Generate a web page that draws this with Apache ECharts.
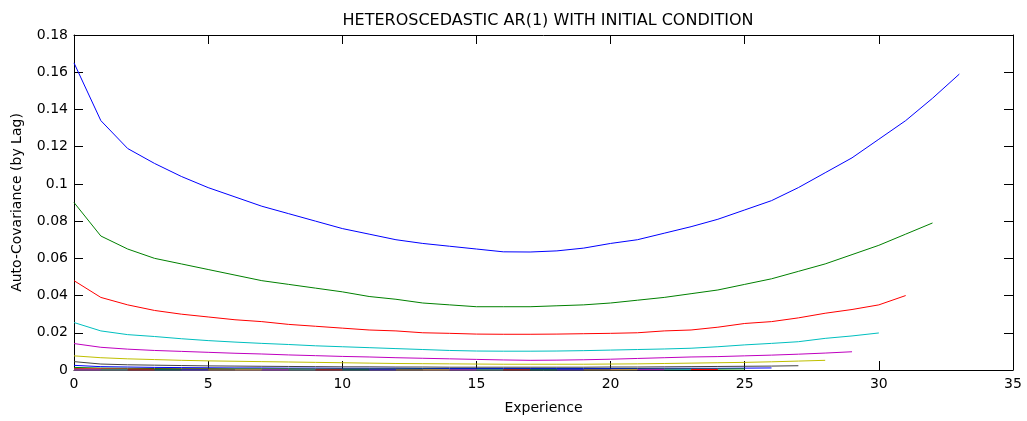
<!DOCTYPE html>
<html>
<head>
<meta charset="utf-8">
<script src="https://cdn.jsdelivr.net/npm/echarts@6/dist/echarts.min.js"></script>
<style>
  html, body { margin: 0; padding: 0; background: #fff; }
  #chart { width: 1027px; height: 421px; }
</style>
</head>
<body>
<div id="chart"></div>
<script>
// auto-covariance by lag, x = experience (0..33-lag)
const lag0 = [0.165, 0.134, 0.119, 0.111, 0.104, 0.098, 0.093, 0.088, 0.084, 0.080, 0.076, 0.073, 0.070, 0.068, 0.0665, 0.065, 0.0635, 0.0634, 0.064, 0.0655, 0.068, 0.070, 0.0735, 0.077, 0.081, 0.086, 0.091, 0.098, 0.106, 0.114, 0.124, 0.134, 0.146, 0.159]
const lag1 = [0.090, 0.072, 0.065, 0.060, 0.057, 0.054, 0.051, 0.048, 0.046, 0.044, 0.042, 0.0395, 0.038, 0.036, 0.035, 0.034, 0.034, 0.034, 0.0345, 0.035, 0.036, 0.0375, 0.039, 0.041, 0.043, 0.046, 0.049, 0.053, 0.057, 0.062, 0.067, 0.073, 0.079]
const lag2 = [0.048, 0.039, 0.035, 0.032, 0.030, 0.0285, 0.027, 0.026, 0.0245, 0.0235, 0.0225, 0.0215, 0.021, 0.020, 0.0197, 0.0193, 0.0192, 0.0192, 0.0193, 0.0195, 0.0197, 0.020, 0.021, 0.0215, 0.023, 0.025, 0.026, 0.028, 0.0305, 0.0325, 0.035, 0.040]
const lag3 = [0.0255, 0.021, 0.019, 0.018, 0.0168, 0.0158, 0.015, 0.0143, 0.0137, 0.013, 0.0125, 0.012, 0.0115, 0.011, 0.0105, 0.0102, 0.0101, 0.0101, 0.0102, 0.0104, 0.0107, 0.011, 0.0113, 0.0117, 0.0125, 0.0135, 0.0143, 0.0152, 0.017, 0.0183, 0.0199]
const lag4 = [0.0142, 0.0122, 0.0112, 0.0105, 0.010, 0.0095, 0.009, 0.0086, 0.0081, 0.0077, 0.0073, 0.007, 0.0066, 0.0063, 0.006, 0.0057, 0.0054, 0.0052, 0.0053, 0.0055, 0.0058, 0.0062, 0.0066, 0.007, 0.0072, 0.0076, 0.008, 0.0085, 0.0091, 0.0098]
const lag5 = [0.0076, 0.0066, 0.006, 0.0056, 0.0052, 0.0049, 0.0047, 0.0045, 0.0043, 0.0041, 0.0039, 0.0037, 0.0035, 0.0034, 0.0033, 0.0032, 0.0031, 0.0031, 0.0031, 0.0031, 0.0032, 0.0033, 0.0035, 0.0037, 0.0039, 0.0041, 0.0044, 0.0048, 0.0052]
const lag6 = [0.0045, 0.0032, 0.0028, 0.0026, 0.0024, 0.0022, 0.0021, 0.002, 0.0019, 0.0018, 0.0017, 0.0017, 0.0016, 0.0016, 0.0015, 0.0015, 0.0015, 0.0015, 0.0015, 0.0015, 0.0016, 0.0016, 0.0017, 0.0018, 0.0019, 0.002, 0.0021, 0.0023]
const lag7 = [0.0025, 0.0018, 0.0016, 0.0014, 0.0013, 0.0012, 0.0011, 0.0011, 0.001, 0.001, 0.0009, 0.0009, 0.0009, 0.0008, 0.0008, 0.0008, 0.0008, 0.0008, 0.0008, 0.0008, 0.0008, 0.0008, 0.0009, 0.0009, 0.0009, 0.001, 0.0011]
const lag8 = [0.0014, 0.001, 0.0009, 0.0008, 0.0007, 0.0007, 0.0006, 0.0006, 0.0006, 0.0005, 0.0005, 0.0005, 0.0005, 0.0005, 0.0004, 0.0004, 0.0004, 0.0004, 0.0004, 0.0004, 0.0004, 0.0005, 0.0005, 0.0005, 0.0005, 0.0006]
const lag9 = [0.0008, 0.0006, 0.0005, 0.0004, 0.0004, 0.0004, 0.0003, 0.0003, 0.0003, 0.0003, 0.0003, 0.0003, 0.0003, 0.0002, 0.0002, 0.0002, 0.0002, 0.0002, 0.0002, 0.0002, 0.0002, 0.0003, 0.0003, 0.0003, 0.0003]
const lag10 = [0.0004, 0.0003, 0.0003, 0.0002, 0.0002, 0.0002, 0.0002, 0.0002, 0.0002, 0.0002, 0.0001, 0.0001, 0.0001, 0.0001, 0.0001, 0.0001, 0.0001, 0.0001, 0.0001, 0.0001, 0.0001, 0.0001, 0.0001, 0.0002]
const lag11 = [0.0002, 0.0002, 0.0001, 0.0001, 0.0001, 0.0001, 0.0001, 0.0001, 0.0001, 0.0001, 0.0001, 0.0001, 0.0001, 0.0001, 0.0001, 0.0001, 0.0001, 0.0001, 0.0001, 0.0001, 0.0001, 0.0001, 0.0001]
const lag12 = [0.0001, 0.0001, 0.0001, 0.0001, 0.0001, 0.0001, 0.0001, 0.0001, 0.0001, 0.0001, 0, 0, 0, 0, 0, 0, 0, 0, 0, 0, 0, 0.0001]
// lags 13..33 sit on the axis
const nearZeroLags = [
  [0,0,0,0,0, 0,0,0,0,0, 0,0,0,0,0, 0,0,0,0,0, 0],
  [0,0,0,0,0, 0,0,0,0,0, 0,0,0,0,0, 0,0,0,0,0],
  [0,0,0,0,0, 0,0,0,0,0, 0,0,0,0,0, 0,0,0,0],
  [0,0,0,0,0, 0,0,0,0,0, 0,0,0,0,0, 0,0,0],
  [0,0,0,0,0, 0,0,0,0,0, 0,0,0,0,0, 0,0],
  [0,0,0,0,0, 0,0,0,0,0, 0,0,0,0,0, 0],
  [0,0,0,0,0, 0,0,0,0,0, 0,0,0,0,0],
  [0,0,0,0,0, 0,0,0,0,0, 0,0,0,0],
  [0,0,0,0,0, 0,0,0,0,0, 0,0,0],
  [0,0,0,0,0, 0,0,0,0,0, 0,0],
  [0,0,0,0,0, 0,0,0,0,0, 0],
  [0,0,0,0,0, 0,0,0,0,0],
  [0,0,0,0,0, 0,0,0,0],
  [0,0,0,0,0, 0,0,0],
  [0,0,0,0,0, 0,0],
  [0,0,0,0,0, 0],
  [0,0,0,0,0],
  [0,0,0,0],
  [0,0,0],
  [0,0],
  [0]
]
const lags = [lag0, lag1, lag2, lag3, lag4, lag5, lag6, lag7, lag8, lag9, lag10, lag11, lag12].concat(nearZeroLags)

// matlab default line colour order
const colors = ['#0000FF', '#008000', '#FF0000', '#00BFBF', '#BF00BF', '#BFBF00', '#404040']

const font = '"DejaVu Sans", Arial, sans-serif'

const series = lags.map((vals, k) => ({
  name: 'lag ' + k,
  type: 'line',
  xAxisIndex: 0,
  yAxisIndex: 0,
  showSymbol: false,
  symbol: 'none',
  data: vals.map((v, i) => [i, v]),
  lineStyle: { color: colors[k % 7], width: 1 },
  itemStyle: { color: colors[k % 7] }
}))

const chart = echarts.init(document.getElementById('chart'))

const axisCommon = {
  axisLine: { show: true, onZero: false, lineStyle: { color: '#000', width: 1 } },
  axisTick: { show: true, inside: true, length: 9, lineStyle: { color: '#000' } },
  splitLine: { show: false }
}

chart.setOption({
  animation: false,
  backgroundColor: '#fff',
  title: {
    text: 'HETEROSCEDASTIC AR(1) WITH INITIAL CONDITION',
    left: 543,
    textAlign: 'center',
    top: 8,
    textStyle: { fontFamily: font, fontSize: 16, fontWeight: 'normal', color: '#000' }
  },
  grid: { left: 74, right: 14, top: 35, bottom: 51 },
  xAxis: [
    Object.assign({
      type: 'value', position: 'bottom', min: 0, max: 35, interval: 5,
      name: 'Experience', nameLocation: 'middle', nameGap: 31,
      nameTextStyle: { fontFamily: font, fontSize: 14, color: '#000' },
      axisLabel: { fontFamily: font, fontSize: 14, color: '#000', margin: 7 }
    }, axisCommon),
    Object.assign({
      type: 'value', position: 'top', min: 0, max: 35, interval: 5,
      axisLabel: { show: false }
    }, axisCommon)
  ],
  yAxis: [
    Object.assign({
      type: 'value', position: 'left', min: 0, max: 0.18, interval: 0.02,
      name: 'Auto-Covariance (by Lag)', nameLocation: 'middle', nameGap: 50,
      nameTextStyle: { fontFamily: font, fontSize: 14, color: '#000' },
      axisLabel: { fontFamily: font, fontSize: 14, color: '#000', margin: 6 }
    }, axisCommon),
    Object.assign({
      type: 'value', position: 'right', min: 0, max: 0.18, interval: 0.02,
      axisLabel: { show: false }
    }, axisCommon)
  ],
  series: series
})
</script>
</body>
</html>
